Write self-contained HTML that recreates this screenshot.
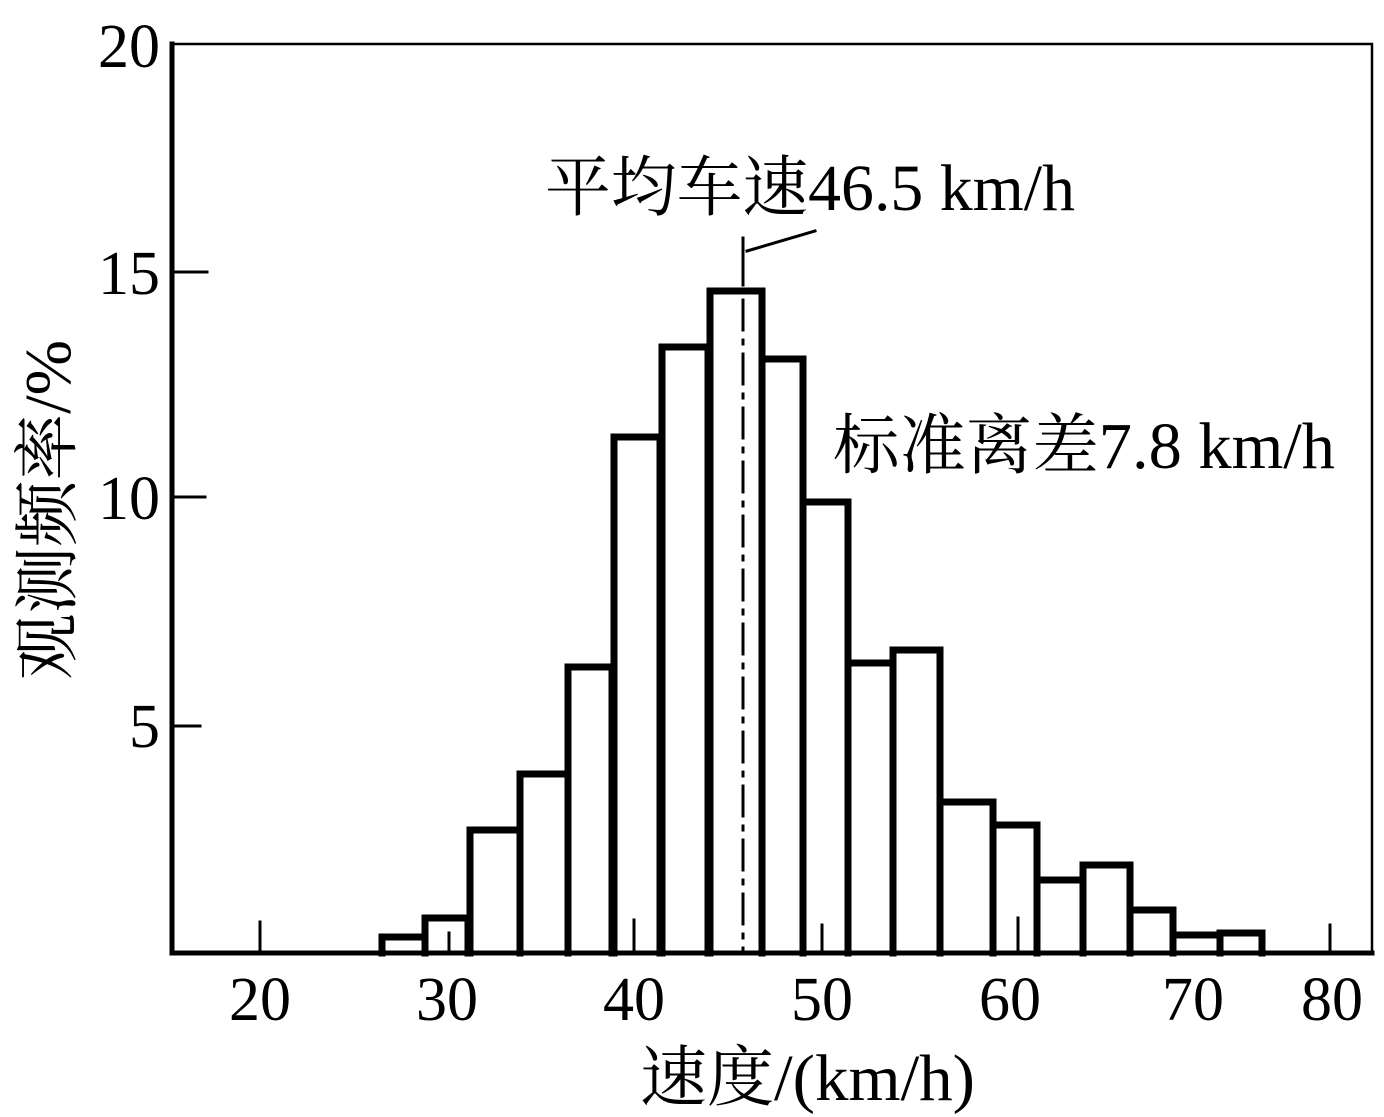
<!DOCTYPE html>
<html><head><meta charset="utf-8"><style>
html,body{margin:0;padding:0;background:#fff;}
svg{display:block;}
.n{font-family:"Liberation Serif",serif;font-size:62px;fill:#000;}
.c{font-family:"Liberation Serif","Noto Serif CJK SC",serif;font-size:66px;fill:#000;}
</style></head><body>
<svg width="1384" height="1117" viewBox="0 0 1384 1117" xmlns="http://www.w3.org/2000/svg">
<g stroke="#000" fill="none" stroke-linecap="square">
<path d="M172 44 L1372 44 L1372 953" stroke-width="2.5"/>
<path d="M172 44 L172 953 L1372 953" stroke-width="5"/>
<path d="M172 272 H207 M172 497 H205 M172 726 H200" stroke-width="3"/>
<path d="M260 953 V922 M1330 953 V925 M449 953 V933 M634 953 V920 M822 953 V925 M1018 953 V918" stroke-width="3"/>
<path stroke-width="7" stroke-linejoin="miter" d="
M382 953 V937 H425 V953
M425 937 V918 H468 V953
M470 953 V830 H520 V953
M520 953 V774 H568 V953
M568 953 V667 H612 V953
M614 953 V437 H660 V953
M662 953 V347 H708 V953
M710 953 V291 H762 V953
M762 953 V359 H803 V953
M803 953 V502 H848 V953
M848 953 V663 H893 V953
M893 953 V650 H940 V953
M940 953 V802 H993 V953
M993 953 V825 H1037 V953
M1037 953 V880 H1083 V953
M1083 953 V865 H1130 V953
M1130 953 V910 H1173 V953
M1173 953 V935 H1220 V953
M1220 953 V933 H1262 V953"/>
<path d="M743 300 V953" stroke-width="3" stroke-dasharray="30,10,4,10"/>
<path d="M743 238 V285 M747 251 L815 231" stroke-width="3"/>
</g>
<text class="n" x="160" y="67" text-anchor="end">20</text>
<text class="n" x="160" y="294" text-anchor="end">15</text>
<text class="n" x="160" y="519" text-anchor="end">10</text>
<text class="n" x="160" y="747" text-anchor="end">5</text>
<text class="n" x="260" y="1020" text-anchor="middle">20</text>
<text class="n" x="447" y="1020" text-anchor="middle">30</text>
<text class="n" x="634" y="1020" text-anchor="middle">40</text>
<text class="n" x="822" y="1020" text-anchor="middle">50</text>
<text class="n" x="1010" y="1020" text-anchor="middle">60</text>
<text class="n" x="1193" y="1020" text-anchor="middle">70</text>
<text class="n" x="1332" y="1020" text-anchor="middle">80</text>
<text class="c" x="545" y="210" textLength="530" lengthAdjust="spacingAndGlyphs">平均车速46.5 km/h</text>
<text class="c" x="833" y="468" textLength="502" lengthAdjust="spacingAndGlyphs">标准离差7.8 km/h</text>
<text class="c" x="640" y="1100" textLength="335" lengthAdjust="spacingAndGlyphs">速度/(km/h)</text>
<text class="c" transform="translate(70,680) rotate(-90)" textLength="340" lengthAdjust="spacingAndGlyphs">观测频率/%</text>
</svg>
</body></html>
